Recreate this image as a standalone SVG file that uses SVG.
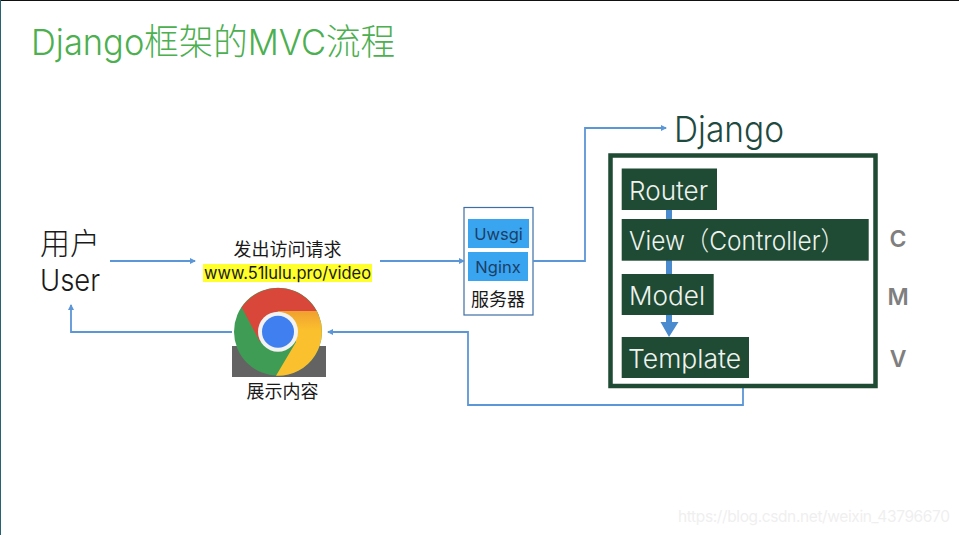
<svg xmlns="http://www.w3.org/2000/svg" width="959" height="535" viewBox="0 0 959 535">
<style>
text{font-family:"Inter","Noto Sans CJK SC",sans-serif}
.cn{font-family:"Noto Sans CJK SC",sans-serif}
.t{font-size:26px;fill:#eef3ef;font-weight:300}
.s{font-size:16.500px;fill:#1c3f66;font-weight:400}
.k{font-size:18px;fill:#1a1a1a}
.l{fill:none;stroke:#5b96d6;stroke-width:1.800}
.g{fill:#1f4a33}
.b{fill:#39a4f0}
.m{font-size:23px;font-weight:600;fill:#7f7f7f}
</style>
<defs><marker id="a" markerWidth="7" markerHeight="7" refX="5" refY="3" orient="auto" markerUnits="userSpaceOnUse"><path d="M0,0L6,3L0,6Z" fill="#5b96d6"/></marker>
<linearGradient id="y" x1="0" y1="0" x2="0" y2="1"><stop offset="0" stop-color="#f0a030"/><stop offset="0.300" stop-color="#fbc02d"/></linearGradient></defs>
<rect width="959" height="535" fill="#fff"/>
<rect x="0" y="0" width="959" height="1" fill="#111"/>
<rect x="0" y="0" width="1" height="535" fill="#2a6073"/>
<text id="title" x="31" y="55" font-size="36" fill="#4caf50" textLength="364" lengthAdjust="spacingAndGlyphs" font-weight="300">Django框架的MVC流程</text>
<g id="user"><text class="cn" x="70" y="254" font-size="30" fill="#1a1a1a" text-anchor="middle" font-weight="300">用户</text><text x="70" y="291" font-size="30" fill="#1a1a1a" text-anchor="middle" font-weight="300" textLength="60" lengthAdjust="spacingAndGlyphs">User</text></g>
<g id="request"><text class="cn k" x="287.500" y="256" text-anchor="middle">发出访问请求</text><rect x="203" y="264" width="169" height="18" fill="#ffff2b"/><text x="287.500" y="279" font-size="17" fill="#1a1a1a" text-anchor="middle" textLength="167" lengthAdjust="spacingAndGlyphs">www.51lulu.pro/video</text></g>
<g id="chrome">
<rect x="232" y="346" width="94" height="31" fill="#636363"/>
<circle cx="278" cy="331.700" r="44" fill="#3f9c55"/>
<path d="M241.700,307.300A44,44 0 0 1 316.700,311L278,311L260,342Z" fill="#d9473b"/>
<path d="M316.700,311A44,44 0 0 1 276,375.700L296,342L278,311Z" fill="url(#y)"/>
<circle cx="278" cy="331.700" r="20" fill="#f2f2f2"/><circle cx="278" cy="331.700" r="16" fill="#3f7ff0"/>
<text class="cn k" x="282.500" y="398" text-anchor="middle">展示内容</text></g>
<g id="server"><rect x="464" y="207.500" width="69" height="107.500" fill="#fff" stroke="#3f6ea5" stroke-width="1.200"/><rect class="b" x="468" y="219" width="61" height="29"/><rect class="b" x="468" y="252" width="60" height="29"/><text class="s" x="498.500" y="239.500" text-anchor="middle">Uwsgi</text><text class="s" x="498" y="273" text-anchor="middle">Nginx</text><text class="cn k" x="498" y="306" text-anchor="middle">服务器</text></g>
<g id="connectors">
<path class="l" d="M110,261H195" marker-end="url(#a)"/>
<path class="l" d="M380,261H464" marker-end="url(#a)"/>
<path class="l" d="M533,261H585V128H666" marker-end="url(#a)"/>
<path class="l" d="M743,387V405H468V332H328" marker-end="url(#a)"/>
<path class="l" d="M232,332H71V305" marker-end="url(#a)"/>
</g>
<text id="django" x="674" y="142" font-size="36" fill="#1f4a3f" font-weight="300" textLength="110" lengthAdjust="spacingAndGlyphs">Django</text>
<g id="django-box"><rect x="610.500" y="155.500" width="265" height="230.500" fill="#fff" stroke="#1f4a33" stroke-width="4.500"/>
<path d="M666,210H672V322H678.500L669,337L660.500,322H666Z" fill="#4a8bd0"/></g>
<g id="router"><rect class="g" x="621.700" y="168.500" width="95.300" height="41.500"/><text class="t" x="629" y="200" textLength="79" lengthAdjust="spacingAndGlyphs">Router</text></g>
<g id="view"><rect class="g" x="621.700" y="219" width="247" height="41.700"/><text class="t" x="629" y="250" textLength="216" lengthAdjust="spacingAndGlyphs">View（Controller）</text></g>
<g id="model"><rect class="g" x="621.700" y="274" width="92" height="41"/><text class="t" x="629" y="305" textLength="76" lengthAdjust="spacingAndGlyphs">Model</text></g>
<g id="template"><rect class="g" x="621.700" y="337" width="127.300" height="41"/><text class="t" x="628" y="368" textLength="113" lengthAdjust="spacingAndGlyphs">Template</text></g>
<g id="mvc"><text class="m" x="898" y="247" text-anchor="middle">C</text><text class="m" x="898" y="305" text-anchor="middle">M</text><text class="m" x="898" y="367" text-anchor="middle">V</text></g>
<text id="watermark" x="678" y="522" font-size="15.500" fill="#efefef" textLength="272" font-family="Liberation Sans">https://blog.csdn.net/weixin_43796670</text>
</svg>
